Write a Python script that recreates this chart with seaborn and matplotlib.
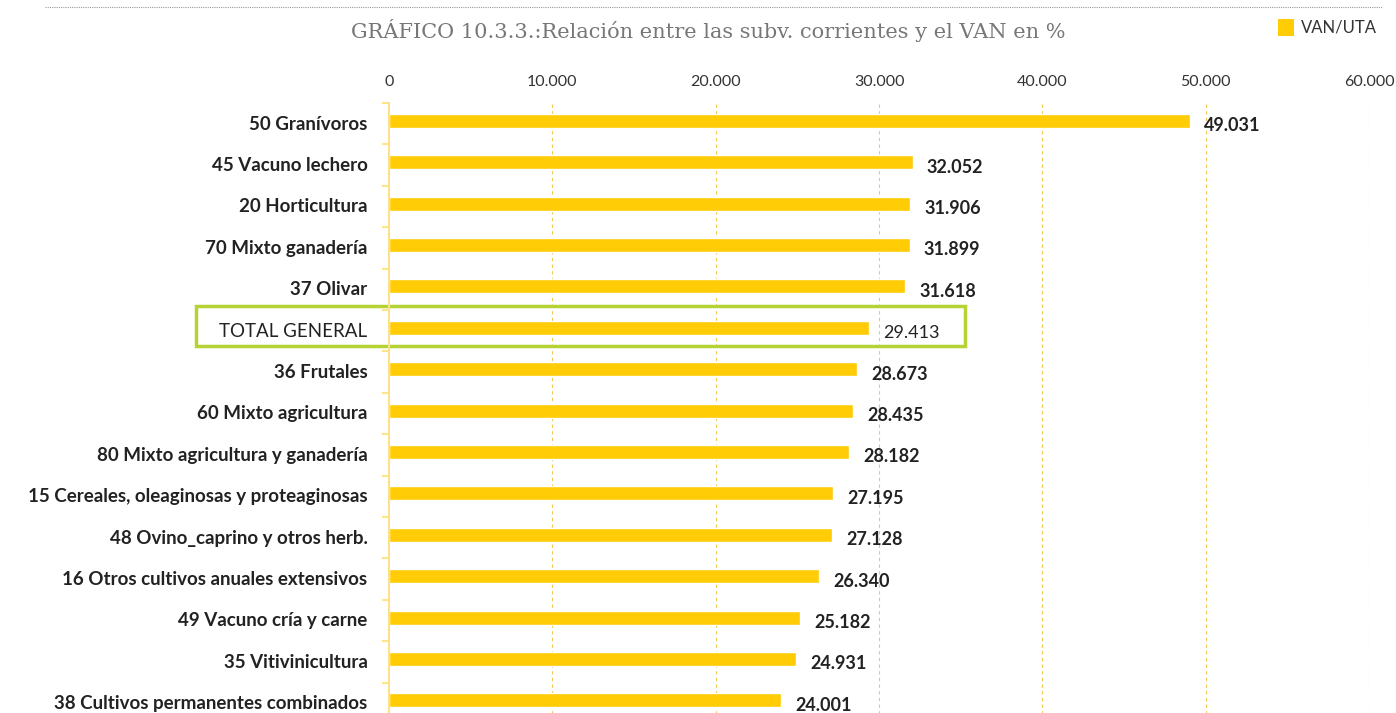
import matplotlib
matplotlib.use("Agg")
import matplotlib.pyplot as plt
import matplotlib.transforms as mtransforms
from matplotlib.patches import Rectangle
import seaborn as sns
import pandas as pd

# data
categorias = ["50 Granívoros", "45 Vacuno lechero", "20 Horticultura", "70 Mixto ganadería",
              "37 Olivar", "TOTAL GENERAL", "36 Frutales", "60 Mixto agricultura",
              "80 Mixto agricultura y ganadería", "15 Cereales, oleaginosas y proteaginosas",
              "48 Ovino_caprino y otros herb.", "16 Otros cultivos anuales extensivos",
              "49 Vacuno cría y carne", "35 Vitivinicultura", "38 Cultivos permanentes combinados"]
van_uta = [49031, 32052, 31906, 31899, 31618, 29413, 28673, 28435, 28182,
           27195, 27128, 26340, 25182, 24931, 24001]
ticks = [0, 10000, 20000, 30000, 40000, 50000, 60000]

def fmt(v):
    return f"{v:,}".replace(",", ".")

df = pd.DataFrame({"cat": categorias, "val": van_uta})

sns.set_style("white")
plt.rcParams['font.family'] = ['Lato', 'DejaVu Sans']

amarillo = "#FFCC05"
fig = plt.figure(figsize=(13.96, 7.13), dpi=100)
ax = fig.add_axes([0.2787, -0.0154, 0.702, 0.8709])

sns.barplot(data=df, x="val", y="cat", color=amarillo, width=0.34, saturation=1, ax=ax)

d = 0.07
ax.set_xlim(0, 60000)
ax.set_ylim(len(categorias) - 0.5 + d, -0.5 + d)
ax.set_xticks(ticks)
ax.set_xticklabels([fmt(t) for t in ticks])
ax.xaxis.tick_top()
ax.tick_params(axis="x", length=0, labelsize=11.5, labelcolor="#333333", pad=10)
ax.set_xlabel("")
ax.set_ylabel("")

# category labels
tr = mtransforms.blended_transform_factory(ax.transAxes, ax.transData)
ax.set_yticks(range(len(categorias)))
ax.set_yticklabels([])
for i, c in enumerate(categorias):
    peso = "normal" if c == "TOTAL GENERAL" else "bold"
    ax.text(-0.022, i + 0.08, c, transform=tr,
            ha="right", va="center", fontsize=13.5, fontweight=peso, color="#222222")
ax.set_yticks([i - 0.5 + d for i in range(len(categorias) + 1)], minor=True)
ax.tick_params(axis="y", which="major", length=0)
ax.tick_params(axis="y", which="minor", length=5, color="#FFE58A", width=1.5, left=True)

# grid
for t in ticks[1:]:
    ax.axvline(t, color="#F2C94C", lw=0.8, ls=(0, (3, 3)), zorder=0)
for s in ["top", "right", "bottom"]:
    ax.spines[s].set_visible(False)
ax.spines["left"].set_color("#FFE08A")
ax.spines["left"].set_linewidth(1.5)

# value labels
for i, v in enumerate(van_uta):
    peso = "normal" if categorias[i] == "TOTAL GENERAL" else "bold"
    ax.annotate(fmt(v), (v, i), xytext=(10, -3.5), textcoords="offset points",
                ha="left", va="center", fontsize=13, fontweight=peso, color="#222222")

# highlight box
ax.add_patch(Rectangle((-0.197, 5.45), 0.785, -0.98, transform=tr, fill=False,
                       edgecolor="#B5D334", lw=2.5, clip_on=False))

# title, legend and top line
fig.text(0.507, 0.957, "GRÁFICO 10.3.3.:Relación entre las subv. corrientes y el VAN en %",
         ha="center", va="center", fontsize=15, color="#777777", family="DejaVu Serif")
fig.patches.append(Rectangle((0.9155, 0.949), 0.0115, 0.024, transform=fig.transFigure,
                             facecolor=amarillo, edgecolor="none"))
fig.text(0.932, 0.961, "VAN/UTA", ha="left", va="center", fontsize=12, color="#333333")
fig.add_artist(plt.Line2D([0.032, 0.99], [0.99, 0.99], transform=fig.transFigure,
                          color="#999999", lw=0.8, ls=(0, (1, 1))))

fig.savefig("out.png", dpi=100)
